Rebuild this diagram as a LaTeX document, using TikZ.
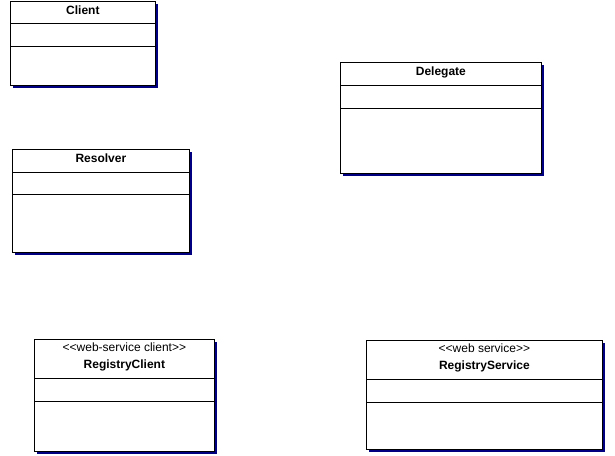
\documentclass[tikz,border=0pt]{standalone}
\usepackage{fontspec}
\setmainfont{Liberation Sans}
\usetikzlibrary{shadows}
\definecolor{shadowblue}{RGB}{0,0,128}
\tikzset{
  classbox/.style={rectangle,draw,fill=white,line width=0.8pt,anchor=north west,inner sep=0pt,
    drop shadow={shadow xshift=3pt,shadow yshift=-3pt,fill=shadowblue,opacity=1}},
  classname/.style={font=\fontsize{12}{14}\selectfont\bfseries,inner sep=0pt,anchor=base},
  stereo/.style={font=\fontsize{12}{14}\selectfont,inner sep=0pt,anchor=base},
  part/.style={line width=0.8pt}
}

\begin{document}
\begin{tikzpicture}[x=1pt,y=-1pt]
  \useasboundingbox (0,0) rectangle (615,455);
  % Client
  \node(client)[classbox,minimum width=145pt,minimum height=84pt] at (10,0.5) {};
  \node(clientname)[classname] at ([yshift=-13.5pt]client.north) {Client};
  \draw[part] ([yshift=-23pt]client.north west) -- ([yshift=-23pt]client.north east);
  \draw[part] ([yshift=-46pt]client.north west) -- ([yshift=-46pt]client.north east);
  % Delegate
  \node(delegate)[classbox,minimum width=201pt,minimum height=111pt] at (340,62) {};
  \node(delegatename)[classname] at ([yshift=-13.7pt]delegate.north) {Delegate};
  \draw[part] ([yshift=-23pt]delegate.north west) -- ([yshift=-23pt]delegate.north east);
  \draw[part] ([yshift=-46pt]delegate.north west) -- ([yshift=-46pt]delegate.north east);
  % Resolver
  \node(resolver)[classbox,minimum width=177pt,minimum height=103pt] at (12,149) {};
  \node(resolvername)[classname] at ([yshift=-13pt]resolver.north) {Resolver};
  \draw[part] ([yshift=-23pt]resolver.north west) -- ([yshift=-23pt]resolver.north east);
  \draw[part] ([yshift=-45pt]resolver.north west) -- ([yshift=-45pt]resolver.north east);
  % RegistryClient
  \node(regclient)[classbox,minimum width=180pt,minimum height=112pt] at (34,339) {};
  \node(regclientstereo)[stereo] at ([yshift=-12pt]regclient.north) {<\kern0pt<web-service client>\kern0pt>};
  \node(regclientname)[classname] at ([yshift=-29pt]regclient.north) {RegistryClient};
  \draw[part] ([yshift=-39pt]regclient.north west) -- ([yshift=-39pt]regclient.north east);
  \draw[part] ([yshift=-62pt]regclient.north west) -- ([yshift=-62pt]regclient.north east);
  % RegistryService
  \node(regservice)[classbox,minimum width=236pt,minimum height=109pt] at (366,340) {};
  \node(regservicestereo)[stereo] at ([yshift=-12pt]regservice.north) {<\kern0pt<web service>\kern0pt>};
  \node(regservicename)[classname] at ([yshift=-29pt]regservice.north) {RegistryService};
  \draw[part] ([yshift=-39pt]regservice.north west) -- ([yshift=-39pt]regservice.north east);
  \draw[part] ([yshift=-62pt]regservice.north west) -- ([yshift=-62pt]regservice.north east);
\end{tikzpicture}
\end{document}
